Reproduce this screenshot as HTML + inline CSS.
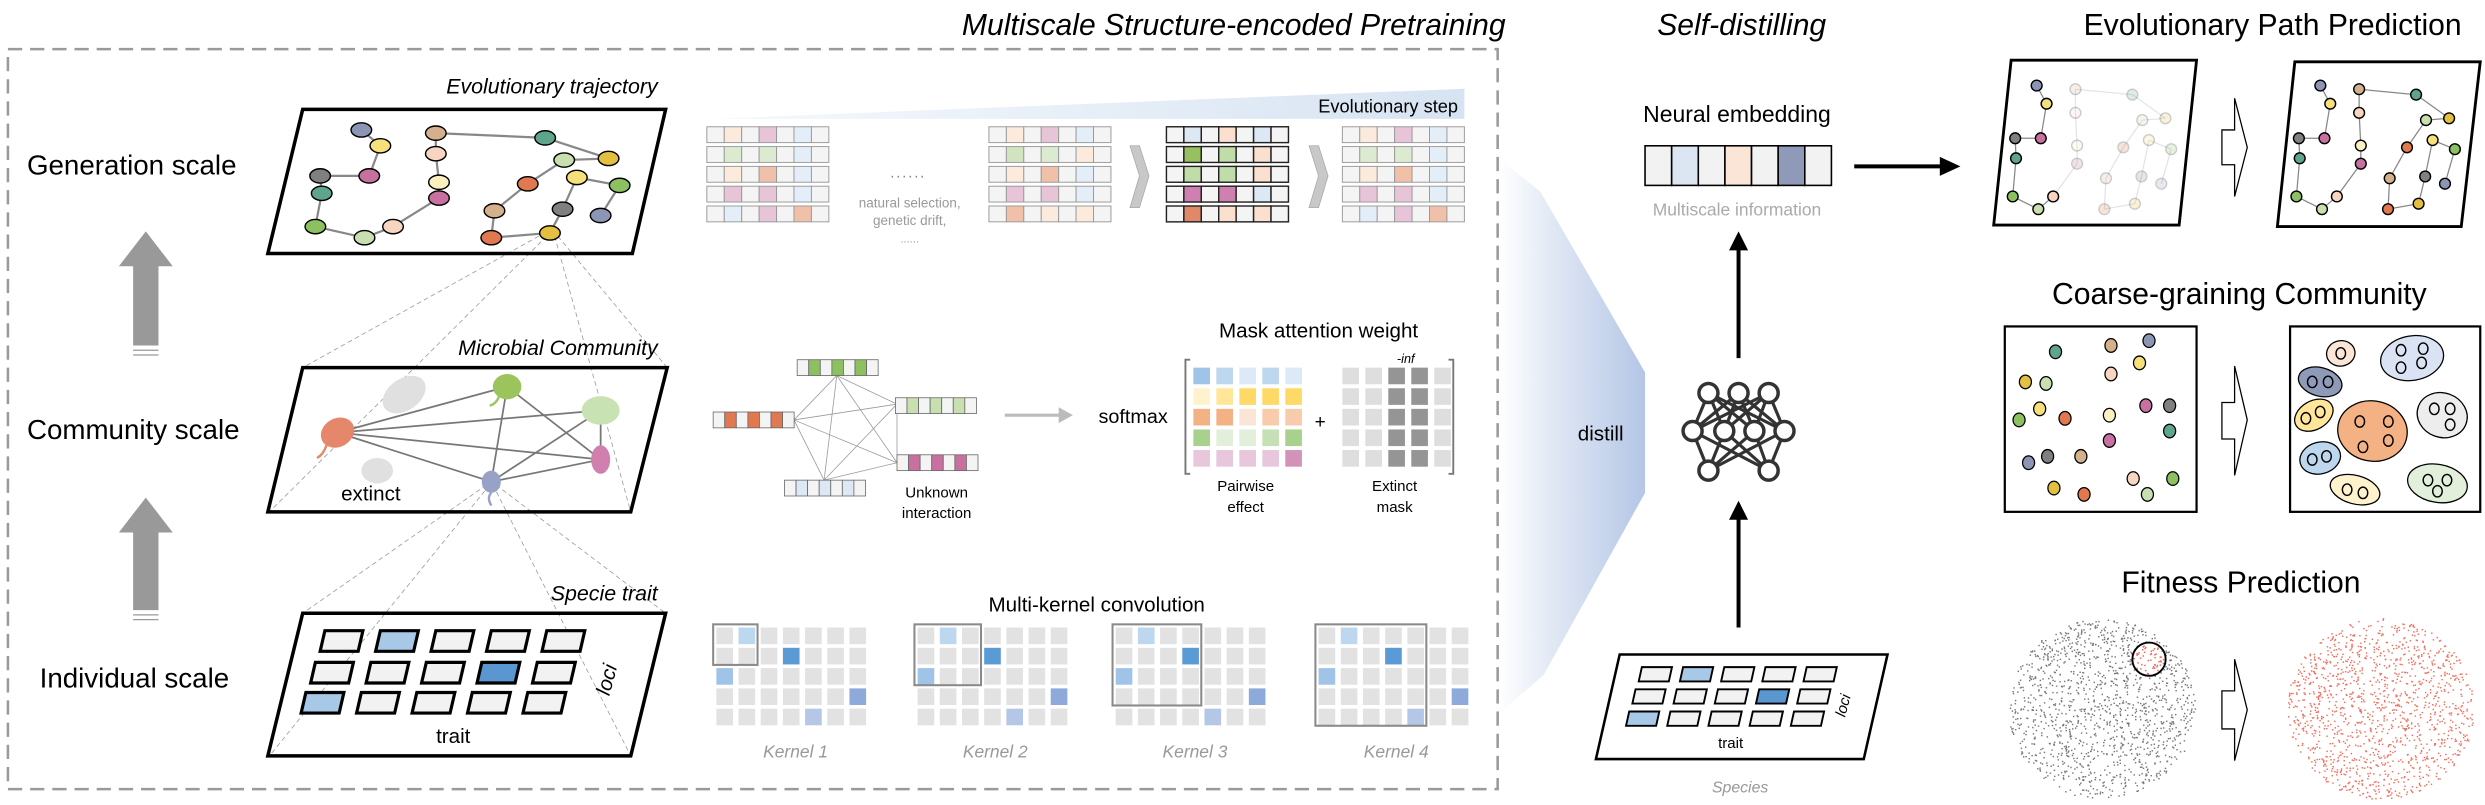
<!DOCTYPE html>
<html><head><meta charset="utf-8"><style>
html,body{margin:0;padding:0;background:#fff;}
svg{display:block;}
text{font-family:"Liberation Sans",Arial,sans-serif;}
.n{font-stretch:condensed;}
</style></head><body>
<svg id="s" width="2485" height="805" viewBox="0 0 1568 508" preserveAspectRatio="none" xmlns="http://www.w3.org/2000/svg">
<defs>
<linearGradient id="ev" x1="0" x2="1" y1="0" y2="0"><stop offset="0" stop-color="#dde8f4" stop-opacity="0.3"/><stop offset="1" stop-color="#d6e3f2"/></linearGradient>
<linearGradient id="ds" x1="0" x2="1" y1="0" y2="0"><stop offset="0" stop-color="#ffffff"/><stop offset="0.35" stop-color="#e2e9f5"/><stop offset="1" stop-color="#b4c6e6"/></linearGradient>
<marker id="ah" markerWidth="6" markerHeight="6" refX="5" refY="3" orient="auto" markerUnits="strokeWidth"><path d="M0,0 L6,3 L0,6 z" fill="#000"/></marker>
</defs>

<!-- distill shape -->
<polygon points="946,100 972,121 1038,235 1038,311 974,426 946,450" fill="url(#ds)"/>

<!-- dashed box -->
<rect x="5" y="31" width="940" height="467" fill="none" stroke="#9a9a9a" stroke-width="1.6" stroke-dasharray="9,5"/>

<text x="950" y="22" font-size="19" font-style="italic" text-anchor="end">Multiscale Structure-encoded Pretraining</text>
<text x="1099" y="22" font-size="19" font-style="italic" text-anchor="middle">Self-distilling</text>
<text x="1434" y="22" font-size="19" text-anchor="middle">Evolutionary Path Prediction</text>
<text x="1413" y="192" font-size="19" text-anchor="middle">Coarse-graining Community</text>
<text x="1414" y="374" font-size="19" text-anchor="middle">Fitness Prediction</text>

<text x="17" y="110" font-size="17.5">Generation scale</text>
<text x="17" y="277" font-size="17.5">Community scale</text>
<text x="25" y="434" font-size="17.5">Individual scale</text>

<!-- gray arrows -->
<g fill="#999">
<polygon points="92,146 109,168 100,168 100,218 84,218 84,168 75,168"/>
<polygon points="92,314 109,336 100,336 100,385 84,385 84,336 75,336"/>
</g>
<g stroke="#999" stroke-width="0.8"><line x1="84" y1="221" x2="100" y2="221"/><line x1="84" y1="224" x2="100" y2="224"/><line x1="84" y1="388" x2="100" y2="388"/><line x1="84" y1="391" x2="100" y2="391"/></g>

<!-- projection dashed lines -->
<g stroke="#999" stroke-width="0.5" stroke-dasharray="3,2" fill="none">
<line x1="340" y1="149" x2="191" y2="232"/><line x1="345" y1="149" x2="170" y2="323"/>
<line x1="352" y1="149" x2="421" y2="232"/><line x1="350" y1="149" x2="398" y2="323"/>
<line x1="307" y1="306" x2="191" y2="387"/><line x1="309" y1="306" x2="170" y2="477"/>
<line x1="313" y1="306" x2="420" y2="387"/><line x1="311" y1="306" x2="398" y2="477"/>
</g>

<!-- parallelograms -->
<g fill="#fff" stroke="#000" stroke-width="2.2">
<polygon points="191,69 420,69 399,160 169,160" fill="none"/>
<polygon points="191,232 421,232 398,323 169,323" fill="none"/>
<polygon points="191,387 420,387 398,477 169,477" fill="none"/>
</g>
<text x="415" y="59" font-size="13.5" font-style="italic" text-anchor="end" class="n">Evolutionary trajectory</text>
<text x="415" y="224" font-size="13.5" font-style="italic" text-anchor="end" class="n">Microbial Community</text>
<text x="415" y="379" font-size="13.5" font-style="italic" text-anchor="end" class="n">Specie trait</text>

<g id="gen"></g>
<g id="comm">
<g stroke="#777" stroke-width="1.1">
<line x1="213" y1="273" x2="320" y2="244"/><line x1="213" y1="273" x2="379" y2="259"/><line x1="213" y1="273" x2="379" y2="290"/><line x1="213" y1="273" x2="310" y2="304"/>
<line x1="320" y1="244" x2="379" y2="290"/><line x1="320" y1="244" x2="310" y2="304"/><line x1="379" y1="259" x2="379" y2="290"/><line x1="379" y1="259" x2="310" y2="304"/><line x1="379" y1="290" x2="310" y2="304"/>
</g>
<ellipse cx="255" cy="249" rx="15" ry="10" fill="#e0e0e0" transform="rotate(-35 255 249)"/>
<ellipse cx="238" cy="297" rx="10" ry="8" fill="#e0e0e0"/>
<ellipse cx="320" cy="244" rx="9" ry="8" fill="#9cc45c"/><path d="M315,250 q-2,5 -6,6" stroke="#9cc45c" stroke-width="1.5" fill="none"/>
<ellipse cx="379" cy="259" rx="12" ry="9" fill="#c8e2b4"/>
<ellipse cx="213" cy="273" rx="11" ry="9" fill="#e4876a" transform="rotate(-30 213 273)"/><path d="M206,281 q-2,6 -6,8" stroke="#e4876a" stroke-width="1.5" fill="none"/>
<ellipse cx="379" cy="290" rx="6" ry="9" fill="#d07fae"/>
<ellipse cx="310" cy="304" rx="6" ry="7" fill="#97a2c6"/><path d="M310,311 q-3,3 0,8" stroke="#97a2c6" stroke-width="1.5" fill="none"/>
<text x="234" y="316" font-size="13" text-anchor="middle" class="n">extinct</text>
</g>
<g id="ind"></g>
<text x="286" y="469" font-size="13" text-anchor="middle" class="n">trait</text>
<text x="387" y="430" font-size="13" font-style="italic" text-anchor="middle" transform="rotate(-75 387 430)">loci</text>

<!-- evolutionary step -->
<polygon points="450,75 924,56 924,75" fill="url(#ev)"/>
<text x="920" y="71" font-size="11.5" text-anchor="end" class="n">Evolutionary step</text>
<g id="mats"></g>
<text x="573" y="112" font-size="10" fill="#888" text-anchor="middle" letter-spacing="1">......</text>
<text x="574" y="131" font-size="8.5" fill="#999" text-anchor="middle" class="n">natural selection,</text>
<text x="574" y="142" font-size="8.5" fill="#999" text-anchor="middle" class="n">genetic drift,</text>
<text x="574" y="153" font-size="7" fill="#999" text-anchor="middle">......</text>
<g fill="#c8c8c8" stroke="#aaa" stroke-width="0.5">
<polygon points="713,92 719,92 725,111 719,131 713,131 719,111"/>
<polygon points="826,92 832,92 838,111 832,131 826,131 832,111"/>
</g>

<!-- interaction network -->
<g stroke="#999" stroke-width="0.5">
<line x1="528" y1="237" x2="501" y2="265"/><line x1="528" y1="237" x2="566" y2="255"/><line x1="528" y1="237" x2="566" y2="292"/><line x1="528" y1="237" x2="520" y2="303"/>
<line x1="501" y1="265" x2="566" y2="255"/><line x1="501" y1="265" x2="566" y2="292"/><line x1="501" y1="265" x2="520" y2="303"/>
<line x1="566" y1="255" x2="520" y2="303"/><line x1="566" y1="292" x2="520" y2="303"/><line x1="566" y1="255" x2="566" y2="292"/>
</g>
<g id="net"></g>
<text x="591" y="314" font-size="9.5" text-anchor="middle" class="n">Unknown</text>
<text x="591" y="327" font-size="9.5" text-anchor="middle" class="n">interaction</text>
<line x1="634" y1="262" x2="670" y2="262" stroke="#bbb" stroke-width="2"/><polygon points="668,257 677,262 668,267" fill="#bbb"/>
<text x="715" y="267" font-size="12.5" text-anchor="middle" class="n">softmax</text>
<text x="832" y="213" font-size="13" text-anchor="middle" class="n">Mask attention weight</text>
<path d="M751,227 h-3 v72 h3 M914,227 h3 v72 h-3" fill="none" stroke="#777" stroke-width="1.2"/>
<g id="pw"></g>
<text x="833" y="270" font-size="12" text-anchor="middle">+</text>
<text x="887" y="229" font-size="8" font-style="italic" text-anchor="middle">-inf</text>
<text x="786" y="310" font-size="9.5" text-anchor="middle" class="n">Pairwise</text>
<text x="786" y="323" font-size="9.5" text-anchor="middle" class="n">effect</text>
<text x="880" y="310" font-size="9.5" text-anchor="middle" class="n">Extinct</text>
<text x="880" y="323" font-size="9.5" text-anchor="middle" class="n">mask</text>

<!-- kernels -->
<text x="692" y="386" font-size="13" text-anchor="middle" class="n">Multi-kernel convolution</text>
<g id="kern"></g>
<g font-size="11" font-style="italic" fill="#999" text-anchor="middle" class="n">
<text x="502" y="478">Kernel 1</text><text x="628" y="478">Kernel 2</text><text x="754" y="478">Kernel 3</text><text x="881" y="478">Kernel 4</text>
</g>

<!-- self distilling column -->
<text x="1010" y="278" font-size="13" text-anchor="middle">distill</text>
<text x="1096" y="77" font-size="14.5" text-anchor="middle" class="n">Neural embedding</text>
<g id="emb"></g>
<text x="1096" y="136" font-size="11" fill="#aaa" text-anchor="middle" class="n">Multiscale information</text>
<line x1="1170" y1="105" x2="1228" y2="105" stroke="#000" stroke-width="2.5"/><polygon points="1224,99 1237,105 1224,111" fill="#000"/>
<line x1="1097" y1="226" x2="1097" y2="156" stroke="#000" stroke-width="2.5"/><polygon points="1091,158 1097,146 1103,158" fill="#000"/>
<line x1="1097" y1="396" x2="1097" y2="326" stroke="#000" stroke-width="2.5"/><polygon points="1091,328 1097,316 1103,328" fill="#000"/>
<g id="nn"></g>
<polygon points="1022,413 1191,413 1176,479 1007,479" fill="#fff" stroke="#000" stroke-width="1.6"/>
<g id="sp"></g>
<text x="1092" y="472" font-size="9.5" text-anchor="middle">trait</text>
<text x="1166" y="446" font-size="9.5" font-style="italic" text-anchor="middle" transform="rotate(-75 1166 446)">loci</text>
<text x="1098" y="500" font-size="10" fill="#999" font-style="italic" text-anchor="middle">Species</text>

<!-- right panels -->
<polygon points="1269,38 1386,38 1375,142 1258,142" fill="none" stroke="#000" stroke-width="1.8"/>
<polygon points="1448,39 1565,39 1553,143 1437,143" fill="none" stroke="#000" stroke-width="1.8"/>
<g id="ep"></g>
<rect x="1265" y="206" width="121" height="117" fill="none" stroke="#000" stroke-width="1.4"/>
<rect x="1445" y="206" width="120" height="117" fill="none" stroke="#000" stroke-width="1.4"/>
<g id="cg"></g>
<g id="fit"></g>
<g fill="#fff" stroke="#000" stroke-width="0.8">
<polygon points="1402,82 1410,82 1410,62 1418,93 1410,124 1410,104 1402,104"/>
<polygon points="1402,254 1410,254 1410,231 1418,265 1410,300 1410,277 1402,277"/>
<polygon points="1402,436 1410,436 1410,416 1418,448 1410,480 1410,460 1402,460"/>
</g>
</svg>
<script>
var NS="http://www.w3.org/2000/svg";
function el(p,t,a){var e=document.createElementNS(NS,t);for(var k in a)e.setAttribute(k,a[k]);document.getElementById(p).appendChild(e);return e;}
var C={te:"#5fa58c",ta:"#d4b08c",bg:"#8c96b4",ye:"#f5e07a",pe:"#f7d5c0",go:"#e3c040",lg:"#c8e0b0",gr:"#8cc060",or:"#e07850",pk:"#c870a0",gy:"#808080",ly:"#fbf0c0"};
// generation graph
var N=[[228,82,"bg"],[240,92,"ye"],[275,84,"ta"],[344,87,"te"],[275,97,"pe"],[356,101,"lg"],[384,100,"go"],[202,111,"gy"],[233,111,"pk"],[277,115,"ly"],[333,116,"or"],[364,112,"ye"],[391,117,"gr"],[203,122,"te"],[277,125,"pk"],[312,133,"ta"],[355,132,"gy"],[379,136,"bg"],[199,143,"gr"],[230,150,"lg"],[248,143,"pe"],[310,150,"or"],[347,147,"go"]];
var E=[[0,1],[1,8],[8,7],[7,13],[13,18],[18,19],[19,20],[20,14],[14,9],[9,4],[4,2],[2,3],[3,6],[6,5],[5,10],[10,15],[15,21],[21,22],[22,16],[16,11],[11,12],[12,17]];
function graph(p,dx,dy,sx,sy,r1,r2,fade,sw){
 E.forEach(function(e){var a=N[e[0]],b=N[e[1]];var f=fade&&(fade(e[0])||fade(e[1]));el(p,"line",{x1:dx+a[0]*sx,y1:dy+a[1]*sy,x2:dx+b[0]*sx,y2:dy+b[1]*sy,stroke:f?"#e4e4e4":"#888","stroke-width":sw});});
 N.forEach(function(n,i){var f=fade&&fade(i);el(p,"ellipse",{cx:dx+n[0]*sx,cy:dy+n[1]*sy,rx:r1,ry:r2,fill:C[n[2]],stroke:"#000","stroke-width":0.9,opacity:f?0.2:1});});
}
graph("gen",0,0,1,1,6.5,4.5,null,1.4);
// evolutionary path panels: map gen coords to panel
function mapP(dx){return function(){};}
var ex0=199,ex1=391,ey0=82,ey1=150;
function epg(x0,p){var sx=(1549-1449)/(ex1-ex0),sy=(132-54)/(ey1-ey0);return [x0-ex0*sx,54-ey0*sy,sx,sy];}
var a=epg(1449);graph("ep",a[0],a[1],a[2],a[3],3.4,3.4,null,0.8);
var left={0:1,1:1,7:1,8:1,13:1,18:1,19:1,20:1};
var b=epg(1270);graph("ep",b[0],b[1],b[2],b[3],3.4,3.4,function(i){return !left[i];},0.8);
// individual grid
var rows=[[398,202],[418,196],[437,190]],cols={"0,1":"#a8c8e8","1,3":"#5a96d0","2,0":"#a8c8e8"};
rows.forEach(function(r,i){for(var j=0;j<5;j++){var x=r[1]+j*35,y=r[0];var f=cols[i+","+j]||"#f2f2f2";el("ind","polygon",{points:[x+3,y,x+27,y,x+24,y+13,x,y+13].join(" "),fill:f,stroke:"#000","stroke-width":2});}});
// species grid
var srow=[[421,1034],[435,1030],[449,1026]];
srow.forEach(function(r,i){for(var j=0;j<5;j++){var x=r[1]+j*26,y=r[0];var f=cols[i+","+j]||"#f2f2f2";el("sp","polygon",{points:[x+2,y,x+21,y,x+19,y+9,x,y+9].join(" "),fill:f,stroke:"#000","stroke-width":1.2});}});
// matrices
var w="#f4f4f4";
var M1=[[w,"#fcebdd",w,"#e8c4d8",w,"#e4eef8",w],[w,"#dcebd0",w,"#dcebd0",w,"#e4eef8",w],[w,"#fcebdd",w,"#f0c0a8",w,"#e4eef8",w],[w,"#e8c4d8",w,"#e8c4d8",w,"#e4eef8",w],[w,"#e4eef8",w,"#e8c4d8",w,"#f0c0a8",w]];
var M2=[[w,"#fcebdd",w,"#e8c4d8",w,"#e4eef8",w],[w,"#d0e4c0",w,"#dcebd0",w,"#fcebdd",w],[w,"#fcebdd",w,"#f0c0a8",w,"#e4eef8",w],[w,"#e8c4d8",w,"#e8c4d8",w,"#e4eef8",w],[w,"#f0c0a8",w,"#fcebdd",w,"#fcebdd",w]];
var M3=[[w,"#dce8f4",w,"#fbe0d0",w,"#dce8f4",w],[w,"#98c060",w,"#c0dca8",w,"#fbe0d0",w],[w,"#c0dca8",w,"#c0dca8",w,"#fbe0d0",w],[w,"#d080b0",w,"#d080b0",w,"#dce8f4",w],[w,"#e08868",w,"#fbe0d0",w,"#fbe0d0",w]];
function mat(x,M,st,sw){M.forEach(function(r,i){var y=80+i*12.5;r.forEach(function(c,j){el("mats","rect",{x:x+j*11,y:y,width:11,height:10,fill:c,stroke:st,"stroke-width":sw});});});}
mat(446,M1,"#999",0.6);mat(624,M2,"#999",0.6);mat(736,M3,"#222",0.9);mat(847,M1,"#999",0.6);
// network bars
function bar(x,y,c){for(var j=0;j<7;j++)el("net","rect",{x:x+j*7.3,y:y,width:7.3,height:10,fill:(j%2==1&&j<6)?c:"#f4f4f4",stroke:"#666","stroke-width":0.5});}
bar(503,227,"#8cc060");bar(450,260,"#e07850");bar(565,251,"#c8e0b0");bar(566,287,"#c870a0");bar(495,303,"#dce8f4");
// pairwise
var P=[["#9fc4e8","#bcd7ee","#dde9f6","#bcd7ee","#dde9f6"],["#fff2cc","#ffe699","#ffd966","#ffd966","#ffd966"],["#f4b183","#f4b183","#fbe5d6","#f8cbad","#f8cbad"],["#a9d18e","#e2efda","#e2efda","#c5e0b4","#a9d18e"],["#e8c6dc","#e8c6dc","#e8c6dc","#e8c6dc","#d393b8"]];
P.forEach(function(r,i){r.forEach(function(c,j){el("pw","rect",{x:753+j*14.5,y:232+i*13,width:10.5,height:10.5,fill:c});el("pw","rect",{x:847+j*14.5,y:232+i*13,width:10.5,height:10.5,fill:(j==2||j==3)?"#959595":"#dedede"});});});
// kernels
var KB={"0,1":"#bcd7ee","1,3":"#5b9bd5","2,0":"#a0c4e8","3,6":"#8eaadb","4,4":"#b4c7e7"};
[452,579,704,832].forEach(function(x0,k){for(var i=0;i<5;i++)for(var j=0;j<7;j++)el("kern","rect",{x:x0+j*14,y:396+i*12.8,width:10.5,height:10.5,fill:KB[i+","+j]||"#e2e2e2"});
 var n=k+2;el("kern","rect",{x:x0-2,y:394,width:n*14,height:n*12.8,fill:"none",stroke:"#8a8a8a","stroke-width":1.3});});
// embedding
["#f2f2f2","#dce6f2","#f2f2f2","#fbe5d6","#f2f2f2","#8e9ab8","#f2f2f2"].forEach(function(c,j){el("emb","rect",{x:1038+j*16.8,y:92,width:16.8,height:25,fill:c,stroke:"#000","stroke-width":1});});
// NN
var T=[[1078,248],[1097,248],[1116,248]],M=[[1068,272],[1088,272],[1107,272],[1126,272]],B=[[1078,297],[1116,297]];
T.forEach(function(a){M.forEach(function(b){el("nn","line",{x1:a[0],y1:a[1],x2:b[0],y2:b[1],stroke:"#333","stroke-width":2});});});
B.forEach(function(a){M.forEach(function(b){el("nn","line",{x1:a[0],y1:a[1],x2:b[0],y2:b[1],stroke:"#333","stroke-width":2});});});
T.concat(M,B).forEach(function(a){el("nn","circle",{cx:a[0],cy:a[1],r:6,fill:"#fff",stroke:"#333","stroke-width":2.2});});
// coarse-graining left
var CG=[[1297,222,"te"],[1332,218,"ta"],[1356,215,"bg"],[1350,229,"ye"],[1332,236,"pe"],[1278,241,"go"],[1291,242,"lg"],[1287,258,"ye"],[1303,264,"or"],[1274,265,"gr"],[1331,262,"ly"],[1354,256,"pk"],[1369,256,"gy"],[1369,272,"te"],[1331,278,"pk"],[1280,292,"bg"],[1292,288,"gy"],[1313,288,"ta"],[1296,308,"go"],[1315,312,"or"],[1346,302,"pe"],[1355,312,"lg"],[1371,302,"gr"]];
CG.forEach(function(n){el("cg","ellipse",{cx:n[0],cy:n[1],rx:3.8,ry:4.3,fill:C[n[2]],stroke:"#000","stroke-width":0.8});});
var BL=[[1477,223,9,8,"#fbe5d6",-10,[[0,0]]],[1522,226,20,14,"#dae3f3",-10,[[-7,-5],[7,-6],[-7,6],[6,3]]],[1464,241,14,9,"#8e9ab8",15,[[-5,0],[5,0]]],[1460,262,13,9,"#ffe699",-30,[[-5,2],[4,-2]]],[1497,272,22,19,"#f4b183",10,[[-8,-6],[10,-6],[10,6],[-6,10]]],[1541,262,16,14,"#ededed",20,[[-5,-4],[5,-4],[5,6]]],[1464,289,13,10,"#bdd7ee",-15,[[-5,1],[4,-1]]],[1486,309,16,9,"#fff2cc",15,[[-5,0],[5,2]]],[1538,305,19,12,"#e2efda",10,[[-6,-2],[6,-2],[0,5]]]];
BL.forEach(function(b){var g=el("cg","g",{});el("cg","ellipse",{cx:b[0],cy:b[1],rx:b[2],ry:b[3],fill:b[4],stroke:"#000","stroke-width":0.8,transform:"rotate("+b[5]+" "+b[0]+" "+b[1]+")"});b[6].forEach(function(o){el("cg","ellipse",{cx:b[0]+o[0],cy:b[1]+o[1],rx:3,ry:3.6,fill:"none",stroke:"#000","stroke-width":0.9});});});
// fitness scatter
var seed=7;function rnd(){seed=(seed*16807)%2147483647;return seed/2147483647;}
function scat(cx,cy,col,inside){for(var i=0;i<1400;i++){var t=rnd()*6.283,r=Math.sqrt(rnd());var x=cx+Math.cos(t)*r*59,y=cy+Math.sin(t)*r*57;var c=col;if(inside&&Math.hypot(x-1356,y-416)<10)c="#f06050";el("fit","rect",{x:x,y:y,width:0.9,height:0.9,fill:c});}}
scat(1326,447,"#777",true);scat(1502,447,"#f26b5b",false);
el("fit","circle",{cx:1356,cy:416,r:10.5,fill:"none",stroke:"#000","stroke-width":1.2});
</script>
</body></html>
